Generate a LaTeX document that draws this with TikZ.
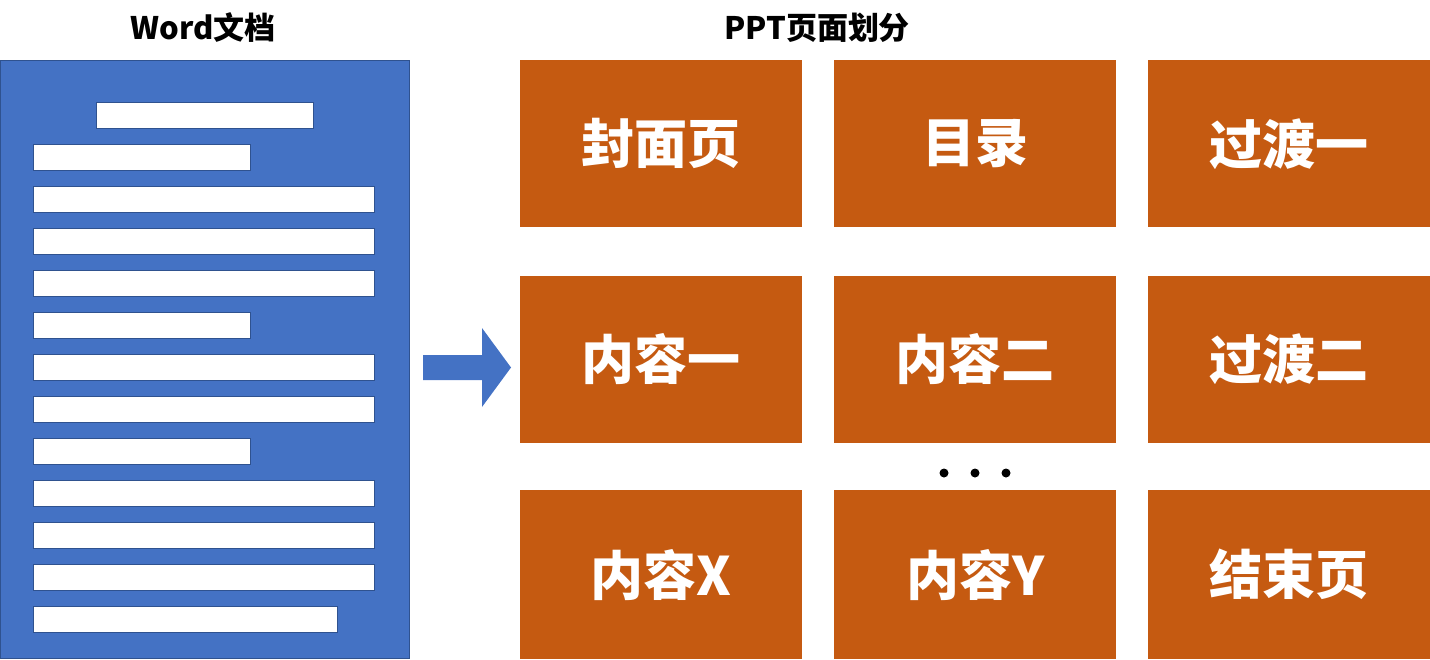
\documentclass[tikz,border=0pt]{standalone}
\usepackage{fontspec}
\setmainfont{Noto Sans CJK SC}
\definecolor{docblue}{HTML}{4472C4}
\definecolor{docedge}{HTML}{2F528F}
\definecolor{pptorange}{HTML}{C55A11}
\tikzset{
  bar/.style={fill=white,draw=docedge,line width=0.8pt},
  page/.style={fill=pptorange,draw=none,text=white,font=\bfseries\fontsize{53}{60}\selectfont,
    minimum width=282pt,minimum height=167pt,inner sep=0pt,anchor=north west},
  title/.style={font=\bfseries\fontsize{31}{36}\selectfont,text=black},
  dot/.style={circle,fill=black,inner sep=0pt,minimum size=9pt}
}
\begin{document}
\begin{tikzpicture}[x=1pt,y=-1pt]
\useasboundingbox (0,0) rectangle (1430,659);
% titles
\node[title] (t1) at (203,28) {Word文档};
\node[title] (t2) at (817,28) {PPT页面划分};
% document
\draw[fill=docblue,draw=docedge,line width=0.8pt] (0.5,60) rectangle (409,658.5);
\draw[bar] (96,102) rectangle (313,128);
\foreach \y/\w in {144/250,186/374,228/374,270/374,312/250,354/374,396/374,438/250,480/374,522/374,564/374,606/337}{
  \draw[bar] (33,\y) rectangle (\w,\y+26);
}
% arrow
\fill[docblue] (423,355) -- (482,355) -- (482,328) -- (511,367.5) -- (482,407) -- (482,380) -- (423,380) -- cycle;
% pages
\node[page] (p1) at (520,60) {封面页};
\node[page] (p2) at (834,60) {目录};
\node[page] (p3) at (1148,60) {过渡一};
\node[page] (p4) at (520,275.5) {内容一};
\node[page] (p5) at (834,275.5) {内容二};
\node[page] (p6) at (1148,275.5) {过渡二};
\node[page,minimum height=169pt] (p7) at (520,490) {内容X};
\node[page,minimum height=169pt] (p8) at (834,490) {内容Y};
\node[page,minimum height=169pt] (p9) at (1148,490) {结束页};
% dots
\node[dot] (d1) at (944,473) {};
\node[dot] (d2) at (975,473) {};
\node[dot] (d3) at (1006,473) {};
\end{tikzpicture}
\end{document}
